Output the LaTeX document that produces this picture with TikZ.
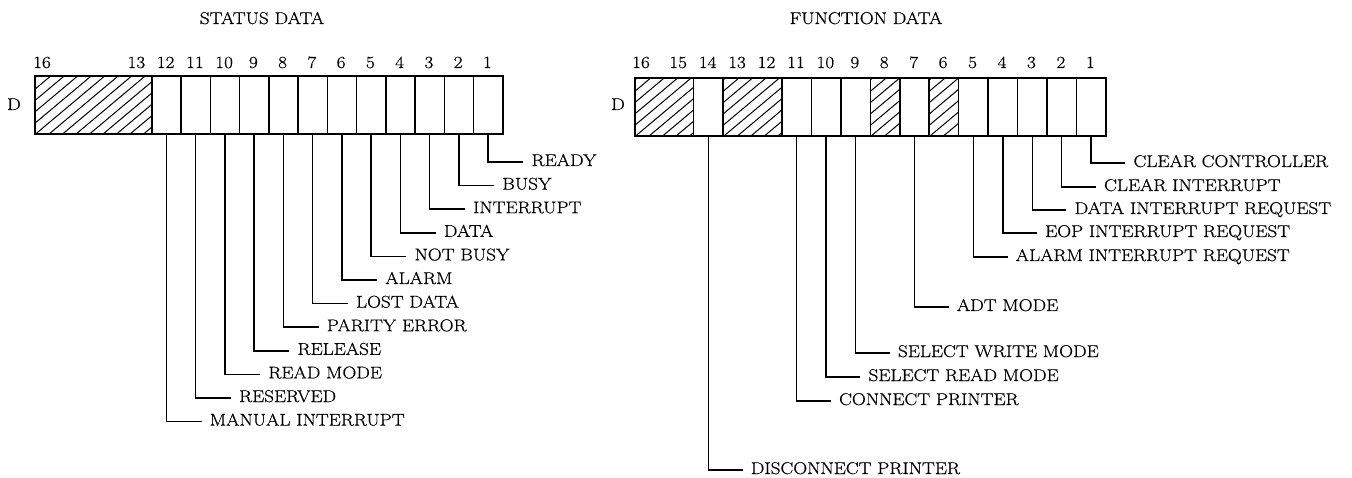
\documentclass[tikz,border=0pt]{standalone}
\usepackage{fontspec}
\setmainfont{Latin Modern Roman}[FakeStretch=1.13, FakeBold=0.6]
\begin{document}
\begin{tikzpicture}[x=1pt,y=-1pt,
  font=\fontsize{17}{20}\selectfont,
  cellbox/.style={draw, line width=1.6pt, minimum height=58pt, inner sep=0pt, anchor=north west},
  hatch/.style={path picture={
      \foreach \k in {0,...,18}{
        \draw[line width=1pt] ([xshift={(\k*13.5-80)*1pt}]path picture bounding box.south west) -- ++(40:220pt);
      }}},
  lbl/.style={anchor=west, inner xsep=8pt, inner ysep=0pt, text height=8pt, text depth=0pt},
  num/.style={anchor=base, inner sep=0pt},
  ttl/.style={anchor=base, inner sep=0pt},
  lead/.style={line width=1.5pt}]
\useasboundingbox (0,0) rectangle (1352,478);

% ---------------- STATUS DATA ----------------
\def\sw{29.25}
\node[ttl] (st) at (262,24) {STATUS DATA};
\node[anchor=base west, inner sep=0pt] (sD) at (7,110) {D};
\node[cellbox, hatch, minimum width=117pt] (s16) at (34,75) {};
\foreach \b in {1,...,12}{
  \node[cellbox, minimum width=\sw pt] (s\b) at ({34+\sw*(16-\b)},75) {};
}
\node[anchor=base west, inner sep=0pt] (sn16) at (33,68) {16};
\foreach \b in {1,...,13}{
  \node[num] (sn\b) at ({34+\sw*(16.5-\b)},68) {\b};
}
\foreach \b/\t in {1/READY,2/BUSY,3/INTERRUPT,4/DATA,5/NOT BUSY,6/ALARM,7/LOST DATA,8/PARITY ERROR,9/RELEASE,10/READ MODE,11/RESERVED,12/MANUAL INTERRUPT}{
  \node[lbl] (sl\b) at ({34+\sw*(16.5-\b)+36},{162+23.6*(\b-1)}) {\t};
  \draw[lead] (s\b.south) |- (sl\b.west);
}

% ---------------- FUNCTION DATA ----------------
\def\fw{29.44}
\node[ttl] (ft) at (866,24) {FUNCTION DATA};
\node[anchor=base west, inner sep=0pt] (fD) at (611,110) {D};
\node[cellbox, hatch, minimum width={2*\fw pt}] (f16) at (634,77) {};
\node[cellbox, hatch, minimum width={2*\fw pt}] (f13) at ({634+3*\fw},77) {};
\node[cellbox, hatch, minimum width=\fw pt] (f8) at ({634+8*\fw},77) {};
\node[cellbox, hatch, minimum width=\fw pt] (f6) at ({634+10*\fw},77) {};
\foreach \b in {1,2,3,4,5,7,9,10,11,14}{
  \node[cellbox, minimum width=\fw pt] (f\b) at ({634+\fw*(16-\b)},77) {};
}
\node[anchor=base west, inner sep=0pt] (fn16) at (632,68) {16};
\foreach \b in {1,...,15}{
  \node[num] (fn\b) at ({634+\fw*(16.5-\b)},68) {\b};
}
\foreach \b/\y/\t in {1/163/CLEAR CONTROLLER,2/187/CLEAR INTERRUPT,3/210/DATA INTERRUPT REQUEST,4/233/EOP INTERRUPT REQUEST,5/257/ALARM INTERRUPT REQUEST,7/307/ADT MODE,9/353/SELECT WRITE MODE,10/377/SELECT READ MODE,11/401/CONNECT PRINTER,14/470/DISCONNECT PRINTER}{
  \node[lbl] (fl\b) at ({634+\fw*(16.5-\b)+35},\y) {\t};
  \draw[lead] (f\b.south) |- (fl\b.west);
}
\end{tikzpicture}
\end{document}
